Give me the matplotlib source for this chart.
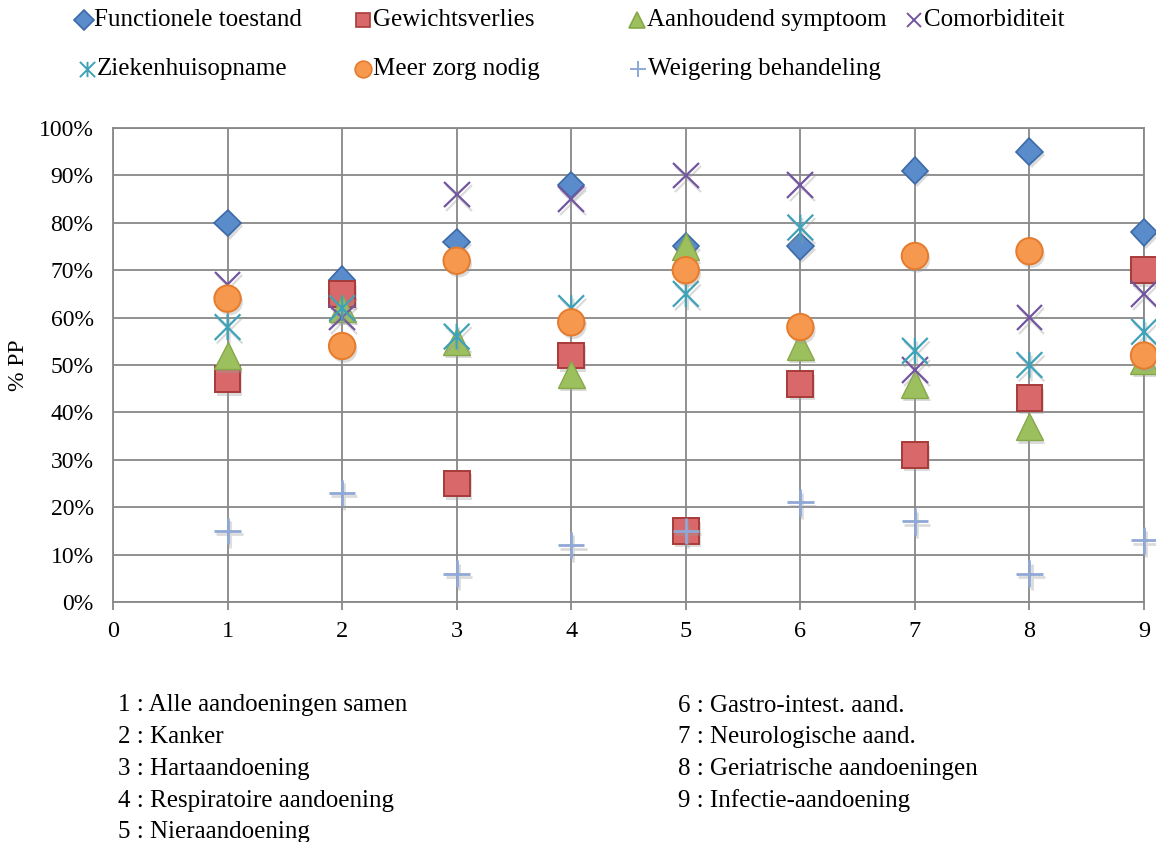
import matplotlib
matplotlib.use("Agg")
import matplotlib.pyplot as plt
from matplotlib.path import Path
from matplotlib.lines import Line2D
import matplotlib.patheffects as pe
from matplotlib.ticker import FuncFormatter, MultipleLocator

plt.rcParams['font.family'] = ['Liberation Serif', 'DejaVu Serif']

# Condition index (x axis)
conditions = [1, 2, 3, 4, 5, 6, 7, 8, 9]

# Percentage of patients per prognostic factor
functionele_toestand = [80, 68, 76, 88, 75, 75, 91, 95, 78]
gewichtsverlies = [47, 65, 25, 52, 15, 46, 31, 43, 70]
aanhoudend_symptoom = [52, 62, 55, 48, 75, 54, 46, 37, 51]
comorbiditeit = [67, 60, 86, 85, 90, 88, 49, 60, 65]
ziekenhuisopname = [58, 62, 56, 62, 65, 79, 53, 50, 57]
meer_zorg_nodig = [64, 54, 72, 59, 70, 58, 73, 74, 52]
weigering_behandeling = [15, 23, 6, 12, 15, 21, 17, 6, 13]

series_names = ["Functionele toestand", "Gewichtsverlies", "Aanhoudend symptoom",
                "Comorbiditeit", "Ziekenhuisopname", "Meer zorg nodig",
                "Weigering behandeling"]

condition_labels_left = ["1 : Alle aandoeningen samen", "2 : Kanker", "3 : Hartaandoening",
                         "4 : Respiratoire aandoening", "5 : Nieraandoening"]
condition_labels_right = ["6 : Gastro-intest. aand.", "7 : Neurologische aand.",
                          "8 : Geriatrische aandoeningen", "9 : Infectie-aandoening"]

# Asterisk marker: an X with a vertical stroke through it
asterisk = Path([(-1, -1), (1, 1), (-1, 1), (1, -1), (0, -1), (0, 1)],
                [Path.MOVETO, Path.LINETO, Path.MOVETO, Path.LINETO, Path.MOVETO, Path.LINETO])

fill_shadow = [pe.SimplePatchShadow(offset=(1.5, -2.5), shadow_rgbFace='#9a9a9a', alpha=0.35), pe.Normal()]
line_shadow = [pe.SimpleLineShadow(offset=(1.5, -2.5), shadow_color='#9a9a9a', alpha=0.35), pe.Normal()]

styles = [
    dict(marker='D', ms=13.5, mfc='#5A8CCB', mec='#3C6AA8', mew=1.2, pe=fill_shadow),
    dict(marker='s', ms=18.5, mfc='#D8686A', mec='#A83B38', mew=1.4, pe=fill_shadow),
    dict(marker='^', ms=19.5, mfc='#9DC05E', mec='#86A84A', mew=1.0, pe=fill_shadow),
    dict(marker='x', ms=18.5, mfc='none', mec='#7356A0', mew=1.6, pe=line_shadow),
    dict(marker=asterisk, ms=18.5, mfc='none', mec='#3FA2B8', mew=1.6, pe=line_shadow),
    dict(marker='o', ms=19, mfc='#F6994F', mec='#E57B2C', mew=1.4, pe=fill_shadow),
    dict(marker='+', ms=19, mfc='none', mec='#8FA8D6', mew=2.0, pe=line_shadow),
]

values = [functionele_toestand, gewichtsverlies, aanhoudend_symptoom, comorbiditeit,
          ziekenhuisopname, meer_zorg_nodig, weigering_behandeling]

W, H = 1156, 842
fig = plt.figure(figsize=(W / 100, H / 100), dpi=100)
ax = fig.add_axes([113 / W, 1 - 602 / H, (1144 - 113) / W, (602 - 128) / H])

grid_color = '#888888'
for name, vals, st in zip(series_names, values, styles):
    ax.plot(conditions, vals, linestyle='none', marker=st['marker'], markersize=st['ms'],
            markerfacecolor=st['mfc'], markeredgecolor=st['mec'], markeredgewidth=st['mew'],
            clip_on=False, zorder=3, path_effects=st['pe'], label=name)

ax.set_xlim(0, 9)
ax.set_ylim(0, 100)
ax.xaxis.set_major_locator(MultipleLocator(1))
ax.yaxis.set_major_locator(MultipleLocator(10))
ax.yaxis.set_major_formatter(FuncFormatter(lambda v, p: f"{int(round(v))}%"))
ax.grid(True, color=grid_color, linewidth=1.3)
ax.set_axisbelow(True)
for sp in ax.spines.values():
    sp.set_color(grid_color)
    sp.set_linewidth(1.3)
ax.tick_params(axis='x', direction='out', length=5.5, width=1.3, color=grid_color,
               labelsize=17.5, pad=8)
ax.tick_params(axis='y', length=0, labelsize=17, pad=14)

# Axis title, rotated, on the left edge
fig.text(18 / W, 1 - 365 / H, "% PP", fontsize=17, rotation=90, ha='center', va='center')

# Series key at the top, laid out as two rows
key_rows = [(0, 84, 20), (1, 363, 20), (2, 637, 20), (3, 914, 20),
            (4, 87, 69), (5, 363, 69), (6, 638, 69)]
key_sizes = [10, 10, 11, 10, 11, 12, 12]
for (idx, mx, my), ks in zip(key_rows, key_sizes):
    st = styles[idx]
    fig.add_artist(Line2D([mx / W], [1 - my / H], transform=fig.transFigure, linestyle='none',
                          marker=st['marker'], markersize=ks, markerfacecolor=st['mfc'],
                          markeredgecolor=st['mec'], markeredgewidth=1.2 if st['mfc'] != 'none' else 1.4))
    fig.text((mx + 10) / W, 1 - my / H, series_names[idx], fontsize=18, va='center', ha='left')

# Condition key below the plot
for i, lab in enumerate(condition_labels_left):
    fig.text(118 / W, 1 - (711.5 + i * 31.7) / H, lab, fontsize=18, va='baseline', ha='left')
for i, lab in enumerate(condition_labels_right):
    fig.text(678 / W, 1 - (711.5 + i * 31.7) / H, lab, fontsize=18, va='baseline', ha='left')

fig.savefig("out.png", dpi=100)
